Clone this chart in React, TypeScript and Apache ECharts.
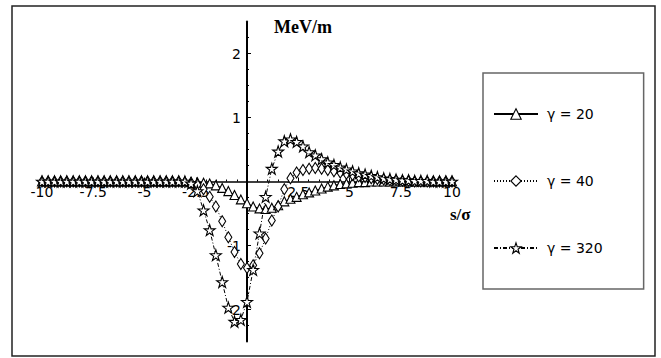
import React, { useEffect, useRef } from 'react';
import * as echarts from 'echarts';

// sample positions s/σ
const S = [
  -10, -9.7, -9.39, -9.09, -8.79, -8.48, -8.18, -7.88, -7.58, -7.27,
  -6.97, -6.67, -6.36, -6.06, -5.76, -5.45, -5.15, -4.85, -4.55, -4.24,
  -3.94, -3.64, -3.33, -3.03, -2.73, -2.42, -2.12, -1.82, -1.52, -1.21,
  -0.91, -0.61, -0.3, 0, 0.3, 0.61, 0.91, 1.21, 1.52, 1.82,
  2.12, 2.42, 2.73, 3.03, 3.33, 3.64, 3.94, 4.24, 4.55, 4.85,
  5.15, 5.45, 5.76, 6.06, 6.36, 6.67, 6.97, 7.27, 7.58, 7.88,
  8.18, 8.48, 8.79, 9.09, 9.39, 9.7, 10,
];

// γ = 20
const GAMMA20 = [
  0, 0, 0, 0, 0, 0, 0, 0, 0, 0,
  0, 0, 0, 0, 0, 0, 0, 0, 0, 0,
  0, 0, 0, 0, -0.01, -0.01, -0.02, -0.03, -0.06, -0.1,
  -0.15, -0.21, -0.28, -0.34, -0.39, -0.42, -0.43, -0.41, -0.37, -0.31,
  -0.27, -0.24, -0.2, -0.17, -0.14, -0.11, -0.08, -0.06, -0.04, -0.03,
  -0.02, -0.01, -0.01, 0, 0, 0, 0, 0, 0, 0,
  0, 0, 0, 0, 0, 0, 0,
];

// γ = 40
const GAMMA40 = [
  0, 0, 0, 0, 0, 0, 0, 0, 0, 0,
  0, 0, 0, 0, 0, 0, 0, 0, 0, 0,
  0, 0, 0, -0.01, -0.02, -0.05, -0.12, -0.24, -0.39, -0.62,
  -0.87, -1.1, -1.29, -1.35, -1.31, -1.12, -0.89, -0.61, -0.39, -0.12,
  0.05, 0.14, 0.18, 0.2, 0.21, 0.2, 0.18, 0.16, 0.14, 0.12,
  0.1, 0.08, 0.07, 0.05, 0.04, 0.03, 0.02, 0.02, 0.01, 0.01,
  0, 0, 0, 0, 0, 0, 0,
];

// γ = 320
const GAMMA320 = [
  0, 0, 0, 0, 0, 0, 0, 0, 0, 0,
  0, 0, 0, 0, 0, 0, 0, 0, 0, 0,
  0, 0, 0, 0, -0.03, -0.15, -0.45, -0.76, -1.15, -1.57,
  -1.97, -2.19, -2.16, -1.88, -1.38, -0.81, -0.24, 0.2, 0.47, 0.63,
  0.66, 0.62, 0.55, 0.46, 0.41, 0.35, 0.3, 0.26, 0.22, 0.19,
  0.16, 0.13, 0.11, 0.09, 0.07, 0.05, 0.04, 0.03, 0.02, 0.02,
  0.01, 0.01, 0.01, 0, 0, 0, 0,
];

const NAMES = ['γ = 20', 'γ = 40', 'γ = 320'];
const X_LABELS = [-10, -7.5, -5, -2.5, 2.5, 5, 7.5, 10];
const Y_LABELS = [-2, -1, 1, 2];
const Y_MINOR = [-2.25, -1.75, -1.5, -1.25, -0.75, -0.5, -0.25, 0.25, 0.5, 0.75, 1.25, 1.5, 1.75, 2.25];

const STAR = 'path://M50 0L61.8 35.3H98.8L68.9 57.1L80.3 92.4L50 70.6L19.7 92.4L31.1 57.1L1.2 35.3H38.2Z';
const FONT = 'DejaVu Sans';

export default function App() {
  const ref = useRef<HTMLDivElement>(null);
  useEffect(() => {
    if (!ref.current) return;
    const chart = echarts.init(ref.current, undefined, { renderer: 'svg' });
    const pairs = (ys: number[]) => S.map((x, i) => [x, ys[i]]);
    const markerStyle = { color: '#fff', borderColor: '#000', borderWidth: 1.1 };
    chart.setOption({
      animation: false,
      backgroundColor: '#fff',
      grid: { left: 42, right: 209, top: 21.5, bottom: 16.5, containLabel: false },
      xAxis: {
        type: 'value', min: -10, max: 10, interval: 2.5, position: 'bottom', offset: -160,
        axisLine: { onZero: false, lineStyle: { color: '#000', width: 1.5 } },
        axisTick: { show: true, inside: true, length: 4, lineStyle: { color: '#000' } },
        minorTick: { show: true, splitNumber: 5, length: 2, lineStyle: { color: '#000' } },
        splitLine: { show: false },
        axisLabel: {
          customValues: X_LABELS, margin: 3, color: '#000', fontFamily: FONT, fontSize: 14,
          formatter: (v: number) => String(v),
        },
      },
      yAxis: [
        {
          type: 'value', min: -2.5, max: 2.5, position: 'left', offset: -205,
          axisLine: { onZero: false, lineStyle: { color: '#000', width: 2 } },
          axisTick: { show: true, inside: true, length: 4, customValues: Y_LABELS, lineStyle: { color: '#000' } },
          splitLine: { show: false },
          axisLabel: {
            customValues: Y_LABELS, margin: 6, color: '#000', fontFamily: FONT, fontSize: 14,
            formatter: (v: number) => String(v),
          },
        },
        {
          type: 'value', min: -2.5, max: 2.5, position: 'left', offset: -205,
          axisLine: { show: false, onZero: false },
          axisTick: { show: true, inside: true, length: 2, customValues: Y_MINOR, lineStyle: { color: '#000' } },
          splitLine: { show: false },
          axisLabel: { show: false },
        },
      ],
      legend: {
        orient: 'vertical', left: 483, top: 73,
        padding: [34, 41, 34, 10],
        itemWidth: 44, itemHeight: 13, itemGap: 53,
        backgroundColor: '#fff', borderColor: '#666', borderWidth: 1.5,
        selectedMode: false,
        itemStyle: { color: '#fff', borderColor: '#000', borderWidth: 1.1 },
        textStyle: { fontFamily: FONT, fontSize: 14, color: '#000', padding: [0, 0, 0, 4] },
        data: NAMES,
      },
      graphic: [
        {
          type: 'rect', silent: true, z: 100,
          shape: { x: 12, y: 6, width: 643, height: 350 },
          style: { fill: 'none', stroke: '#222', lineWidth: 1.5 },
        },
        {
          type: 'text', left: 274, top: 18, z: 100,
          style: { text: 'MeV/m', font: 'bold 18px "Liberation Serif"', fill: '#000' },
        },
        {
          type: 'text', left: 450, top: 206, z: 100,
          style: { text: 's/σ', font: 'bold 17px "Liberation Serif"', fill: '#000' },
        },
      ],
      series: [
        {
          type: 'line', name: NAMES[0], data: pairs(GAMMA20), yAxisIndex: 0,
          symbol: 'triangle', symbolSize: 9, showAllSymbol: true,
          lineStyle: { color: '#000', width: 1, type: 'solid' },
          itemStyle: markerStyle, z: 3,
        },
        {
          type: 'line', name: NAMES[1], data: pairs(GAMMA40), yAxisIndex: 0,
          symbol: 'diamond', symbolSize: [7, 11], showAllSymbol: true,
          lineStyle: { color: '#000', width: 1, type: [1, 2] },
          itemStyle: markerStyle, z: 4,
        },
        {
          type: 'line', name: NAMES[2], data: pairs(GAMMA320), yAxisIndex: 0,
          symbol: STAR, symbolSize: 11, showAllSymbol: true,
          lineStyle: { color: '#000', width: 1, type: [4, 2, 1, 2] },
          itemStyle: markerStyle, z: 5,
        },
      ],
    });
    return () => chart.dispose();
  }, []);
  return <div ref={ref} style={{ position: 'fixed', left: 0, top: 0, width: 661, height: 358 }} />;
}
